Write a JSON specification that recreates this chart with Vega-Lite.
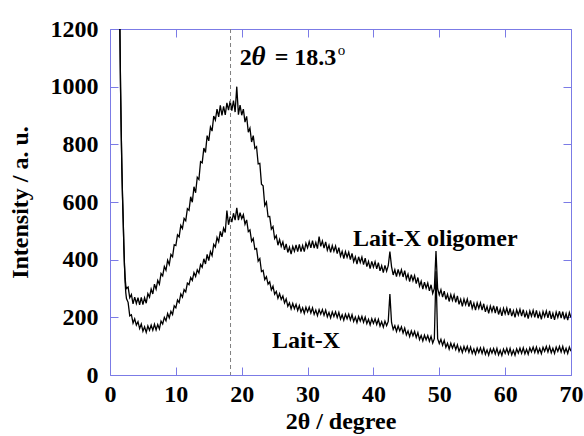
{
"$schema": "https://vega.github.io/schema/vega-lite/v6.json",
"width": 461,
"height": 346,
"autosize": {"type": "none"},
"padding": {"left": 110, "top": 29, "right": 13, "bottom": 61},
"background": "white",
"config": {"view": {"stroke": "#7b7be6", "strokeWidth": 1}, "font": "Liberation Serif"},
"datasets": {
"xrd": [
{"x":1.5,"u":1200,"l":1200},{"x":1.6,"u":1000,"l":1000},{"x":1.7,"u":850,"l":850},{"x":1.8,"u":720,"l":720},{"x":1.9,"u":620,"l":620},{"x":2.0,"u":540,"l":540},{"x":2.1,"u":450,"l":450},{"x":2.2,"u":380,"l":380},{"x":2.3,"u":335,"l":320},{"x":2.4,"u":310,"l":285},{"x":2.5,"u":300,"l":265},
{"x":2.75,"u":305,"l":252},{"x":3,"u":268,"l":205},{"x":3.25,"u":279,"l":209},{"x":3.5,"u":247,"l":180},{"x":3.75,"u":270,"l":195},{"x":4,"u":248,"l":173},{"x":4.25,"u":268,"l":185},{"x":4.5,"u":243,"l":161},{"x":4.75,"u":269,"l":177},{"x":5,"u":244,"l":152},{"x":5.25,"u":268,"l":167},{"x":5.5,"u":249,"l":148},{"x":5.75,"u":282,"l":170},{"x":6,"u":270,"l":155},{"x":6.25,"u":298,"l":173},{"x":6.5,"u":281,"l":155},{"x":6.75,"u":315,"l":176},{"x":7,"u":298,"l":156},{"x":7.25,"u":328,"l":175},{"x":7.5,"u":315,"l":160},{"x":7.75,"u":352,"l":187},{"x":8,"u":344,"l":177},{"x":8.25,"u":376,"l":200},{"x":8.5,"u":363,"l":188},{"x":8.75,"u":398,"l":213},{"x":9,"u":383,"l":198},{"x":9.25,"u":418,"l":221},{"x":9.5,"u":410,"l":210},{"x":9.75,"u":452,"l":240},{"x":10,"u":449,"l":233},{"x":10.25,"u":486,"l":260},{"x":10.5,"u":479,"l":251},{"x":10.75,"u":519,"l":281},{"x":11,"u":508,"l":270},{"x":11.25,"u":543,"l":296},{"x":11.5,"u":535,"l":288},{"x":11.75,"u":577,"l":319},{"x":12,"u":571,"l":313},{"x":12.25,"u":618,"l":338},{"x":12.5,"u":599,"l":328},{"x":12.75,"u":653,"l":355},{"x":13,"u":632,"l":342},{"x":13.25,"u":686,"l":365},{"x":13.5,"u":678,"l":354},{"x":13.75,"u":740,"l":383},{"x":14,"u":736,"l":374},{"x":14.25,"u":787,"l":403},{"x":14.5,"u":772,"l":385},{"x":14.75,"u":830,"l":418},{"x":15,"u":812,"l":397},{"x":15.25,"u":860,"l":428},{"x":15.5,"u":846,"l":414},{"x":15.75,"u":898,"l":453},{"x":16,"u":884,"l":444},{"x":16.25,"u":922,"l":477},{"x":16.5,"u":895,"l":462},{"x":16.75,"u":935,"l":498},{"x":17,"u":900,"l":479},{"x":17.25,"u":932,"l":509},{"x":17.5,"u":902,"l":494},{"x":17.75,"u":944,"l":570},{"x":18,"u":919,"l":521},{"x":18.25,"u":951,"l":549},{"x":18.5,"u":917,"l":530},{"x":18.75,"u":952,"l":561},{"x":19,"u":912,"l":537},{"x":19.25,"u":1000,"l":580},{"x":19.5,"u":903,"l":537},{"x":19.75,"u":936,"l":563},{"x":20,"u":901,"l":542},{"x":20.25,"u":922,"l":556},{"x":20.5,"u":877,"l":523},{"x":20.75,"u":897,"l":538},{"x":21,"u":842,"l":497},{"x":21.25,"u":856,"l":503},{"x":21.5,"u":808,"l":464},{"x":21.75,"u":830,"l":474},{"x":22,"u":786,"l":436},{"x":22.25,"u":792,"l":439},{"x":22.5,"u":732,"l":395},{"x":22.75,"u":734,"l":404},{"x":23,"u":662,"l":359},{"x":23.25,"u":656,"l":363},{"x":23.5,"u":588,"l":331},{"x":23.75,"u":600,"l":341},{"x":24,"u":549,"l":315},{"x":24.25,"u":550,"l":323},{"x":24.5,"u":506,"l":295},{"x":24.75,"u":515,"l":308},{"x":25,"u":473,"l":280},{"x":25.25,"u":483,"l":290},{"x":25.5,"u":450,"l":266},{"x":25.75,"u":470,"l":282},{"x":26,"u":446,"l":262},{"x":26.25,"u":462,"l":274},{"x":26.5,"u":434,"l":250},{"x":26.75,"u":455,"l":264},{"x":27,"u":425,"l":238},{"x":27.25,"u":443,"l":250},{"x":27.5,"u":419,"l":229},{"x":27.75,"u":446,"l":248},{"x":28,"u":429,"l":230},{"x":28.25,"u":451,"l":245},{"x":28.5,"u":428,"l":224},{"x":28.75,"u":453,"l":241},{"x":29,"u":428,"l":218},{"x":29.25,"u":449,"l":233},{"x":29.5,"u":428,"l":214},{"x":29.75,"u":457,"l":235},{"x":30,"u":441,"l":219},{"x":30.25,"u":463,"l":235},{"x":30.5,"u":441,"l":215},{"x":30.75,"u":466,"l":233},{"x":31,"u":440,"l":210},{"x":31.25,"u":460,"l":225},{"x":31.5,"u":438,"l":206},{"x":31.75,"u":480,"l":227},{"x":32,"u":446,"l":211},{"x":32.25,"u":465,"l":227},{"x":32.5,"u":440,"l":207},{"x":32.75,"u":462,"l":225},{"x":33,"u":433,"l":202},{"x":33.25,"u":450,"l":217},{"x":33.5,"u":425,"l":198},{"x":33.75,"u":449,"l":219},{"x":34,"u":429,"l":203},{"x":34.25,"u":447,"l":219},{"x":34.5,"u":421,"l":199},{"x":34.75,"u":442,"l":217},{"x":35,"u":412,"l":194},{"x":35.25,"u":429,"l":209},{"x":35.5,"u":404,"l":190},{"x":35.75,"u":428,"l":211},{"x":36,"u":408,"l":195},{"x":36.25,"u":426,"l":211},{"x":36.5,"u":400,"l":191},{"x":36.75,"u":422,"l":209},{"x":37,"u":393,"l":186},{"x":37.25,"u":410,"l":201},{"x":37.5,"u":385,"l":182},{"x":37.75,"u":410,"l":203},{"x":38,"u":390,"l":187},{"x":38.25,"u":409,"l":203},{"x":38.5,"u":383,"l":183},{"x":38.75,"u":405,"l":201},{"x":39,"u":376,"l":178},{"x":39.25,"u":394,"l":193},{"x":39.5,"u":369,"l":174},{"x":39.75,"u":394,"l":195},{"x":40,"u":374,"l":179},{"x":40.25,"u":393,"l":195},{"x":40.5,"u":368,"l":175},{"x":40.75,"u":390,"l":193},{"x":41,"u":361,"l":170},{"x":41.25,"u":379,"l":185},{"x":41.5,"u":355,"l":166},{"x":41.75,"u":380,"l":187},{"x":42,"u":360,"l":171},{"x":42.25,"u":379,"l":186},{"x":42.5,"u":428,"l":281},{"x":42.75,"u":376,"l":182},{"x":43,"u":347,"l":158},{"x":43.25,"u":365,"l":171},{"x":43.5,"u":341,"l":151},{"x":43.75,"u":366,"l":170},{"x":44,"u":346,"l":153},{"x":44.25,"u":365,"l":167},{"x":44.5,"u":340,"l":146},{"x":44.75,"u":362,"l":163},{"x":45,"u":333,"l":139},{"x":45.25,"u":350,"l":153},{"x":45.5,"u":324,"l":133},{"x":45.75,"u":348,"l":153},{"x":46,"u":327,"l":136},{"x":46.25,"u":345,"l":151},{"x":46.5,"u":317,"l":130},{"x":46.75,"u":338,"l":147},{"x":47,"u":308,"l":123},{"x":47.25,"u":325,"l":137},{"x":47.5,"u":298,"l":118},{"x":47.75,"u":322,"l":138},{"x":48,"u":301,"l":122},{"x":48.25,"u":319,"l":137},{"x":48.5,"u":292,"l":117},{"x":48.75,"u":313,"l":134},{"x":49,"u":283,"l":111},{"x":49.25,"u":300,"l":126},{"x":49.5,"u":430,"l":360},{"x":49.75,"u":299,"l":126},{"x":50,"u":278,"l":109},{"x":50.25,"u":296,"l":124},{"x":50.5,"u":270,"l":103},{"x":50.75,"u":291,"l":120},{"x":51,"u":262,"l":96},{"x":51.25,"u":280,"l":110},{"x":51.5,"u":255,"l":90},{"x":51.75,"u":279,"l":110},{"x":52,"u":259,"l":93},{"x":52.25,"u":278,"l":108},{"x":52.5,"u":252,"l":88},{"x":52.75,"u":274,"l":105},{"x":53,"u":245,"l":82},{"x":53.25,"u":263,"l":97},{"x":53.5,"u":238,"l":78},{"x":53.75,"u":263,"l":99},{"x":54,"u":244,"l":83},{"x":54.25,"u":263,"l":99},{"x":54.5,"u":237,"l":79},{"x":54.75,"u":259,"l":97},{"x":55,"u":231,"l":75},{"x":55.25,"u":249,"l":90},{"x":55.5,"u":225,"l":72},{"x":55.75,"u":250,"l":93},{"x":56,"u":231,"l":78},{"x":56.25,"u":250,"l":94},{"x":56.5,"u":225,"l":75},{"x":56.75,"u":247,"l":94},{"x":57,"u":219,"l":72},{"x":57.25,"u":238,"l":87},{"x":57.5,"u":214,"l":69},{"x":57.75,"u":239,"l":91},{"x":58,"u":220,"l":76},{"x":58.25,"u":240,"l":92},{"x":58.5,"u":215,"l":73},{"x":58.75,"u":238,"l":92},{"x":59,"u":210,"l":70},{"x":59.25,"u":229,"l":86},{"x":59.5,"u":205,"l":68},{"x":59.75,"u":231,"l":90},{"x":60,"u":212,"l":75},{"x":60.25,"u":232,"l":92},{"x":60.5,"u":208,"l":73},{"x":60.75,"u":231,"l":92},{"x":61,"u":204,"l":70},{"x":61.25,"u":223,"l":86},{"x":61.5,"u":200,"l":69},{"x":61.75,"u":226,"l":91},{"x":62,"u":208,"l":76},{"x":62.25,"u":228,"l":93},{"x":62.5,"u":204,"l":75},{"x":62.75,"u":227,"l":94},{"x":63,"u":200,"l":73},{"x":63.25,"u":219,"l":89},{"x":63.5,"u":196,"l":72},{"x":63.75,"u":222,"l":94},{"x":64,"u":204,"l":80},{"x":64.25,"u":224,"l":97},{"x":64.5,"u":200,"l":78},{"x":64.75,"u":224,"l":97},{"x":65,"u":197,"l":76},{"x":65.25,"u":216,"l":92},{"x":65.5,"u":193,"l":74},{"x":65.75,"u":220,"l":96},{"x":66,"u":202,"l":82},{"x":66.25,"u":222,"l":99},{"x":66.5,"u":198,"l":80},{"x":66.75,"u":222,"l":99},{"x":67,"u":195,"l":77},{"x":67.25,"u":214,"l":93},{"x":67.5,"u":191,"l":75},{"x":67.75,"u":218,"l":97},{"x":68,"u":200,"l":82},{"x":68.25,"u":221,"l":99},{"x":68.5,"u":197,"l":80},{"x":68.75,"u":220,"l":99},{"x":69,"u":193,"l":77},{"x":69.25,"u":213,"l":93},{"x":69.5,"u":190,"l":75},{"x":69.75,"u":217,"l":97},{"x":70,"u":199,"l":82}
]
},
"layer": [
{
"data": {"name": "xrd"},
"transform": [{"fold": ["u", "l"], "as": ["series", "y"]}],
"mark": {"type": "line", "color": "black", "strokeWidth": 1.3, "clip": true},
"encoding": {
"x": {"field": "x", "type": "quantitative", "scale": {"domain": [0, 70], "nice": false},
"axis": {"orient": "bottom", "values": [0,10,20,30,40,50,60,70], "format": "d", "grid": false, "domain": false, "ticks": true, "tickColor": "#7b7be6", "tickSize": -8, "labelFont": "Liberation Serif", "labelFontSize": 24, "labelFontWeight": "bold", "labelColor": "black", "labelPadding": 15, "labelFlush": false, "labelOverlap": false, "title": "2θ / degree", "titleFont": "Liberation Serif", "titleFontSize": 24, "titleFontWeight": "bold", "titleColor": "black", "titlePadding": 3}},
"y": {"field": "y", "type": "quantitative", "scale": {"domain": [0, 1200], "nice": false},
"axis": {"orient": "left", "values": [0,200,400,600,800,1000,1200], "format": "d", "grid": false, "domain": false, "ticks": true, "tickColor": "#7b7be6", "tickSize": -8, "labelFont": "Liberation Serif", "labelFontSize": 24, "labelFontWeight": "bold", "labelColor": "black", "labelPadding": 20, "labelFlush": false, "labelOverlap": false, "title": "Intensity / a. u.", "titleFont": "Liberation Serif", "titleFontSize": 24, "titleFontWeight": "bold", "titleColor": "black", "titlePadding": 18}},
"detail": {"field": "series", "type": "nominal"}
}
},
{
"data": {"values": [{"x": 18.3}]},
"mark": {"type": "rule", "color": "#808080", "strokeDash": [4, 3], "strokeWidth": 1},
"encoding": {
"x": {"field": "x", "type": "quantitative", "scale": {"domain": [0, 70], "nice": false},
"axis": {"orient": "top", "values": [0,10,20,30,40,50,60,70], "grid": false, "domain": false, "labels": false, "tickColor": "#7b7be6", "tickSize": -8, "title": null}}
}
},
{
"data": {"values": [{"x": 36.9, "y": 447, "t": "Lait-X oligomer"}, {"x": 24.6, "y": 94, "t": "Lait-X"}, {"x": 19.7, "y": 1075, "t": "2"}, {"x": 25.0, "y": 1075, "t": "= 18.3"}]},
"mark": {"type": "text", "align": "left", "baseline": "alphabetic", "font": "Liberation Serif", "fontSize": 24, "fontWeight": "bold", "color": "black"},
"encoding": {
"x": {"field": "x", "type": "quantitative", "scale": {"domain": [0, 70], "nice": false}, "axis": null},
"y": {"field": "y", "type": "quantitative", "scale": {"domain": [0, 1200], "nice": false},
"axis": {"orient": "right", "values": [0,200,400,600,800,1000,1200], "grid": false, "domain": false, "labels": false, "tickColor": "#7b7be6", "tickSize": -8, "title": null}},
"text": {"field": "t", "type": "nominal"}
}
},
{
"data": {"values": [{"x": 21.5, "y": 1075, "t": "θ"}]},
"mark": {"type": "text", "align": "left", "baseline": "alphabetic", "font": "Liberation Serif", "fontSize": 27, "fontWeight": "bold", "fontStyle": "italic", "color": "black"},
"encoding": {
"x": {"field": "x", "type": "quantitative", "scale": {"domain": [0, 70], "nice": false}, "axis": null},
"y": {"field": "y", "type": "quantitative", "scale": {"domain": [0, 1200], "nice": false}, "axis": null},
"text": {"field": "t", "type": "nominal"}
}
},
{
"data": {"values": [{"x": 34.6, "y": 1110, "t": "o"}]},
"mark": {"type": "text", "align": "left", "baseline": "alphabetic", "font": "Liberation Serif", "fontSize": 15, "fontWeight": "normal", "color": "black"},
"encoding": {
"x": {"field": "x", "type": "quantitative", "scale": {"domain": [0, 70], "nice": false}, "axis": null},
"y": {"field": "y", "type": "quantitative", "scale": {"domain": [0, 1200], "nice": false}, "axis": null},
"text": {"field": "t", "type": "nominal"}
}
}
],
"resolve": {"axis": {"x": "independent", "y": "independent"}}
}
